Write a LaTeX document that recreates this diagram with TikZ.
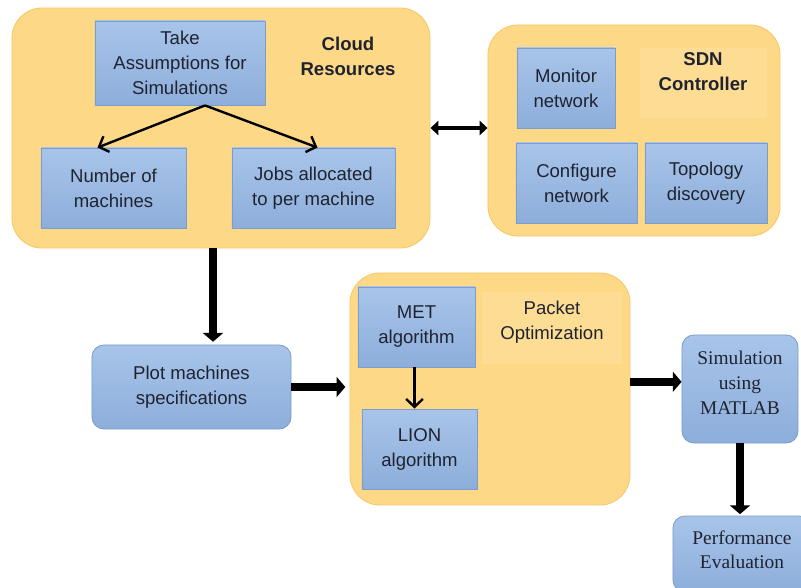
\documentclass[tikz,border=0pt]{standalone}
\usepackage{fontspec}
\setmainfont{Liberation Sans}
\newfontfamily\serifrm{Liberation Serif}
\usetikzlibrary{arrows.meta}

\definecolor{panelfill}{HTML}{FDD886}
\definecolor{paneldraw}{HTML}{F6C866}
\definecolor{bandfill}{HTML}{FDDC93}
\definecolor{boxtop}{HTML}{A8C4E9}
\definecolor{boxbot}{HTML}{8DAEDB}
\definecolor{boxdraw}{HTML}{7C9DCA}
\definecolor{ink}{HTML}{1F2330}

\tikzset{
  panel/.style={draw=paneldraw, line width=0.6pt, fill=panelfill, rounded corners=0.75cm},
  task/.style={draw=boxdraw, line width=0.6pt, top color=boxtop, bottom color=boxbot,
    text=ink, align=center, inner sep=0pt, minimum height=2cm,
    font=\fontsize{13.2}{17.8}\selectfont},
  stage/.style={task, rounded corners=0.3cm},
  matlab/.style={stage, font=\serifrm\fontsize{13.8}{17.6}\selectfont},
  heading/.style={text=ink, align=center, font=\fontsize{13.2}{17.8}\selectfont},
  thin arrow/.style={-{Straight Barb[length=0.2cm,width=0.42cm]}, line width=1.7pt},
  thick arrow/.style={-{Triangle[length=0.22cm,width=0.5cm]}, line width=5.5pt},
}

\begin{document}
\begin{tikzpicture}[x=0.025cm, y=-0.025cm]
  \useasboundingbox (0, 0) rectangle (801, 587);
  \clip (0, 0) rectangle (801, 587);

  % cloud resources
  \node [panel, minimum width=10.45cm, minimum height=6cm] (cloud) at (221, 128) {};
  \node [heading, font=\fontsize{13.2}{17.8}\selectfont\bfseries] (cloudlbl) at (348, 56) {Cloud\\Resources};
  \node [task, minimum width=4.25cm, minimum height=2.1cm] (assume) at (180, 63) {Take\\Assumptions for\\Simulations};
  \node [task, minimum width=3.625cm] (nummach) at (113.5, 188) {Number of\\machines};
  \node [task, minimum width=4.075cm] (jobs) at (313.5, 188) {Jobs allocated\\to per machine};

  % sdn controller
  \node [panel, minimum width=7.3cm, minimum height=5.275cm] (sdn) at (634, 130.5) {};
  \fill [bandfill] (640, 48) rectangle (767, 118);
  \node [heading, font=\fontsize{13.2}{17.8}\selectfont\bfseries] (sdnlbl) at (703, 72) {SDN\\Controller};
  \node [task, minimum width=2.45cm] (monitor) at (566, 88) {Monitor\\network};
  \node [task, minimum width=3.025cm] (configure) at (576.5, 183) {Configure\\network};
  \node [task, minimum width=3.05cm] (topology) at (706, 183) {Topology\\discovery};

  % packet optimization
  \node [panel, minimum width=7cm, minimum height=5.8cm] (packet) at (490, 389) {};
  \fill [bandfill] (482, 292) rectangle (622, 364);
  \node [heading] (packetlbl) at (552, 322) {Packet\\Optimization};
  \node [task, minimum width=2.925cm] (met) at (416.5, 327) {MET\\algorithm};
  \node [task, minimum width=2.875cm] (lion) at (419.5, 449) {LION\\algorithm};

  % outer stages
  \node [stage, minimum width=4.975cm, minimum height=2.1cm] (plot) at (191.5, 387) {Plot machines\\specifications};
  \node [matlab, minimum width=2.9cm, minimum height=2.7cm, text depth=0.32cm] (sim) at (740, 389) {Simulation\\using\\MATLAB};
  \node [matlab, minimum width=3.45cm, minimum height=1.9cm, text depth=0.22cm] (perf) at (742, 554) {Performance\\Evaluation};

  % connectors
  \draw [thin arrow] ([xshift=0.625cm]assume.south) -- ([xshift=-0.4cm]nummach.north);
  \draw [thin arrow] ([xshift=0.625cm]assume.south) -- ([xshift=0.1cm]jobs.north);
  \draw [thin arrow] ([xshift=-0.05cm]met.south) -- ([xshift=-0.05cm]met.south |- lion.north);
  \draw [{Triangle[length=0.2cm,width=0.36cm]}-{Triangle[length=0.2cm,width=0.36cm]}, line width=3pt]
    (cloud.east) -- (cloud.east -| sdn.west);
  \draw [thick arrow, shorten >=2pt] ([xshift=-0.2cm]cloud.south) -- ([xshift=-0.2cm]cloud.south |- plot.north);
  \draw [thick arrow, shorten >=3pt] (plot.east) -- (plot.east -| packet.west);
  \draw [thick arrow] ([yshift=0.18cm]packet.east) -- ([yshift=0.18cm]packet.east -| sim.west);
  \draw [thick arrow, shorten >=1pt] (sim.south) -- (sim.south |- perf.north);
\end{tikzpicture}
\end{document}
